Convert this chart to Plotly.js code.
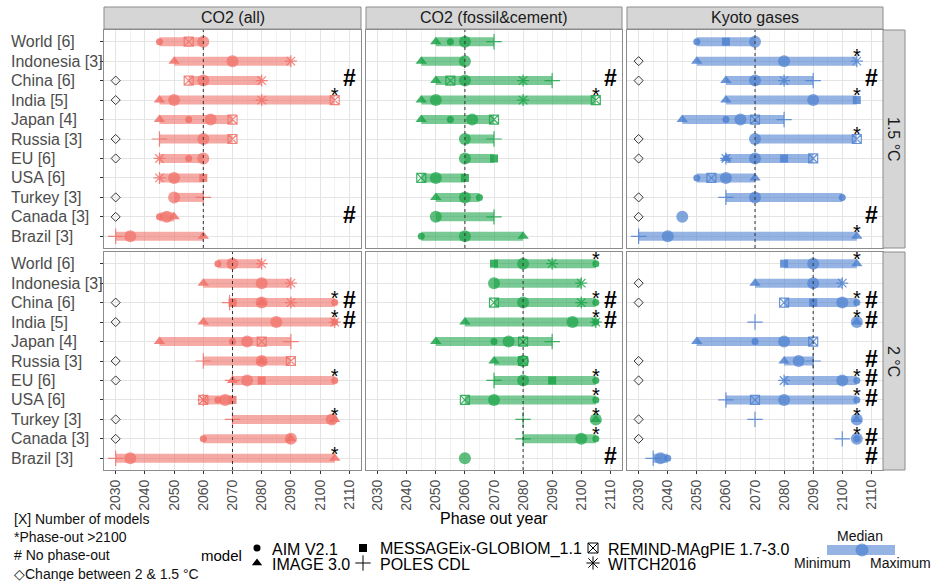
<!DOCTYPE html>
<html><head><meta charset="utf-8">
<script src="https://cdn.plot.ly/plotly-3.0.1.min.js"></script>
<style>body{margin:0;background:#fff}</style>
</head><body><div id="chart" style="width:938px;height:581px"></div>
<script>
// ---------------- DATA ----------------
const regions = ["World [6]","Indonesia [3]","China [6]","India [5]","Japan [4]","Russia [3]","EU [6]","USA [6]","Turkey [3]","Canada [3]","Brazil [3]"];
const gases = ["CO2 (all)","CO2 (fossil&cement)","Kyoto gases"];
const targets = ["1.5 °C","2 °C"];
const models = ["AIM V2.1","IMAGE 3.0","MESSAGEix-GLOBIOM_1.1","POLES CDL","REMIND-MAgPIE 1.7-3.0","WITCH2016"];
const yearTicks = [2030,2040,2050,2060,2070,2080,2090,2100,2110];
const after2100Year = 2105;   // phase-out > 2100 plotted here
const noPhaseOutYear = 2110;  // "#" column
const changeYear = 2030;      // diamond column

// points: [region index, model index, phase-out year]
// CO2 (all), 1.5 °C
const co2All15Min = [2045,2050,2055,2045,2045,2045,2045,2045,2050,2045,2030];
const co2All15Max = [2060,2090,2080,2105,2070,2070,2060,2060,2060,2050,2060];
const co2All15Med = [2060,2070,2060,2050,2062.5,2060,2060,2050,2050,2047.5,2035];
const co2All15Pts = [[0,0,2045],[0,4,2055],[1,1,2050],[1,5,2090],[2,4,2055],[2,5,2080],[3,1,2045],[3,5,2080],[3,4,2105],[4,1,2045],[4,0,2055],[4,4,2070],[5,3,2045],[5,4,2070],[6,5,2045],[6,0,2055],[7,5,2045],[7,2,2060],[8,3,2060],[9,0,2045],[9,1,2050],[10,3,2030],[10,1,2060]];
const co2All15Diamond = [2,3,5,6,8,9];
const co2All15Star = [3];
const co2All15Hash = [2,9];

// CO2 (fossil&cement), 1.5 °C
const co2Fos15Min = [2050,2045,2050,2045,2045,2060,2060,2045,2050,2050,2045];
const co2Fos15Max = [2070,2060,2090,2105,2070,2070,2070,2060,2065,2070,2080];
const co2Fos15Med = [2060,2060,2060,2050,2062.5,2060,2060,2050,2060,2050,2060];
const co2Fos15Pts = [[0,1,2050],[0,0,2055],[0,3,2070],[1,1,2045],[2,1,2050],[2,4,2055],[2,5,2080],[2,3,2090],[3,1,2045],[3,5,2080],[3,4,2105],[4,1,2045],[4,0,2055],[4,4,2070],[5,3,2070],[6,2,2070],[7,4,2045],[7,2,2060],[8,1,2050],[8,0,2065],[9,3,2070],[10,0,2045],[10,1,2080]];
const co2Fos15Diamond = [];
const co2Fos15Star = [3];
const co2Fos15Hash = [2];

// Kyoto gases, 1.5 °C
const kyoto15Min = [2050,2050,2060,2060,2045,2070,2060,2050,2060,2045,2030];
const kyoto15Max = [2070,2105,2090,2105,2080,2105,2090,2070,2100,2045,2105];
const kyoto15Med = [2070,2080,2070,2090,2065,2070,2070,2060,2070,2045,2040];
const kyoto15Pts = [[0,0,2050],[0,2,2060],[1,1,2050],[1,5,2105],[2,1,2060],[2,5,2080],[2,3,2090],[3,1,2060],[3,2,2105],[4,1,2045],[4,0,2060],[4,4,2070],[4,3,2080],[5,4,2105],[6,1,2060],[6,5,2060],[6,2,2080],[6,4,2090],[7,0,2050],[7,4,2055],[7,1,2070],[8,3,2060],[8,0,2100],[10,3,2030],[10,1,2105]];
const kyoto15Diamond = [1,2,5,6,8,9];
const kyoto15Star = [1,3,5,10];
const kyoto15Hash = [2,9];

// CO2 (all), 2 °C
const co2All2Min = [2065,2060,2069,2060,2045,2060,2070,2060,2070,2060,2030];
const co2All2Max = [2080,2090,2105,2105,2090,2090,2105,2070,2105,2090,2105];
const co2All2Med = [2070,2080,2080,2085,2075,2080,2075,2067.5,2104,2090,2035];
const co2All2Pts = [[0,0,2065],[0,5,2080],[1,1,2060],[1,5,2090],[2,3,2069],[2,2,2070],[2,1,2080],[2,5,2090],[2,0,2105],[3,1,2060],[3,5,2105],[3,0,2105],[4,1,2045],[4,0,2070],[4,4,2080],[4,3,2090],[5,3,2060],[5,1,2080],[5,4,2090],[6,3,2070],[6,1,2070],[6,2,2080],[6,0,2105],[7,4,2060],[7,5,2060],[7,0,2065],[7,2,2070],[8,3,2070],[8,1,2105],[9,0,2060],[9,1,2090],[10,3,2030],[10,1,2105]];
const co2All2Diamond = [2,3,5,6,8,9];
const co2All2Star = [2,3,6,8,10];
const co2All2Hash = [2,3];

// CO2 (fossil&cement), 2 °C
const co2Fos2Min = [2070,2070,2070,2060,2050,2070,2070,2060,2105,2080,2060];
const co2Fos2Max = [2105,2100,2105,2105,2090,2080,2105,2105,2105,2105,2060];
const co2Fos2Med = [2080,2070,2080,2097,2075,2080,2080,2070,2105,2100,2060];
const co2Fos2Pts = [[0,2,2070],[0,5,2090],[0,0,2105],[1,5,2100],[2,4,2070],[2,5,2100],[2,0,2105],[3,1,2060],[3,5,2105],[3,0,2105],[4,1,2050],[4,0,2070],[4,4,2080],[4,3,2090],[5,1,2070],[5,4,2080],[6,3,2070],[6,2,2090],[6,0,2105],[7,4,2060],[7,0,2105],[8,3,2080],[8,1,2105],[9,3,2080],[9,0,2105]];
const co2Fos2Diamond = [];
const co2Fos2Star = [0,2,3,6,7,8,9];
const co2Fos2Hash = [2,3,10];

// Kyoto gases, 2 °C
const kyoto2Min = [2080,2070,2080,2105,2050,2080,2080,2060,2105,2105,2035];
const kyoto2Max = [2105,2100,2105,2105,2090,2090,2105,2105,2105,2105,2040];
const kyoto2Med = [2090,2090,2100,2105,2080,2085,2100,2080,2105,2105,2037.5];
const kyoto2Pts = [[0,2,2080],[0,1,2105],[1,1,2070],[1,5,2100],[2,4,2080],[2,2,2090],[2,0,2105],[3,3,2070],[3,1,2105],[4,1,2050],[4,0,2070],[4,4,2090],[5,1,2080],[5,3,2090],[6,5,2080],[6,0,2105],[7,3,2060],[7,4,2070],[7,0,2105],[8,3,2070],[8,1,2105],[9,3,2100],[9,0,2105],[10,3,2035],[10,0,2040]];
const kyoto2Diamond = [1,2,5,6,8,9];
const kyoto2Star = [0,2,3,6,7,8,9];
const kyoto2Hash = [2,3,5,6,7,9,10];

// ---------------- STYLE / LAYOUT ----------------
const W = 938, H = 581;
const gasRGB = [[240,113,105],[30,165,75],[80,130,208]];
const barAlpha = 0.6, medAlpha = 0.72, ptAlpha = 0.85;
const symbols = ['circle','triangle-up','square','cross-thin-open','square-x-open','asterisk-open'];
const symSizes = [7,10,8,11,9,10];
const FONT = 'Liberation Sans, Arial, sans-serif';
const xDom = [[104/W,361/W],[366/W,622/W],[627/W,883/W]];
const yDom = [[1-248/H,1-30/H],[1-470/H,1-252/H]];
const rgba = (c,a) => `rgba(${c[0]},${c[1]},${c[2]},${a})`;
const starLift = 0.14;  // asterisk drawn slightly above its row

const panels = [
  {g:0,t:0,min:co2All15Min,max:co2All15Max,med:co2All15Med,pts:co2All15Pts,dia:co2All15Diamond,star:co2All15Star,hash:co2All15Hash},
  {g:1,t:0,min:co2Fos15Min,max:co2Fos15Max,med:co2Fos15Med,pts:co2Fos15Pts,dia:co2Fos15Diamond,star:co2Fos15Star,hash:co2Fos15Hash},
  {g:2,t:0,min:kyoto15Min,max:kyoto15Max,med:kyoto15Med,pts:kyoto15Pts,dia:kyoto15Diamond,star:kyoto15Star,hash:kyoto15Hash},
  {g:0,t:1,min:co2All2Min,max:co2All2Max,med:co2All2Med,pts:co2All2Pts,dia:co2All2Diamond,star:co2All2Star,hash:co2All2Hash},
  {g:1,t:1,min:co2Fos2Min,max:co2Fos2Max,med:co2Fos2Med,pts:co2Fos2Pts,dia:co2Fos2Diamond,star:co2Fos2Star,hash:co2Fos2Hash},
  {g:2,t:1,min:kyoto2Min,max:kyoto2Max,med:kyoto2Med,pts:kyoto2Pts,dia:kyoto2Diamond,star:kyoto2Star,hash:kyoto2Hash}
];

const traces = [];
const shapes = [];
const annotations = [];
const layout = {
  width: W, height: H, margin:{l:0,r:0,t:0,b:0},
  paper_bgcolor:'#fff', plot_bgcolor:'rgba(0,0,0,0)', showlegend:false,
  font:{family:FONT, color:'#1a1a1a'}
};

panels.forEach((p, idx) => {
  const k = idx + 1;
  const xa = 'x' + (k===1?'':k), ya = 'y' + (k===1?'':k);
  const col = gasRGB[p.g];
  const bottom = p.t === 1;
  layout['xaxis' + (k===1?'':k)] = {
    domain: xDom[p.g], anchor: ya, range:[2026,2114],
    tickmode:'array', tickvals: yearTicks, ticktext: yearTicks.map(String),
    showgrid:true, gridcolor:'#e4e4e4', gridwidth:1,
    minor:{dtick:5, tick0:2030, showgrid:true, gridcolor:'#f2f2f2', gridwidth:1, ticks:''},
    showline:true, mirror:true, linecolor:'#8c8c8c', linewidth:1, zeroline:false,
    showticklabels: bottom, ticks: bottom ? 'outside' : '', ticklen:3, tickcolor:'#333',
    tickangle:-90, tickfont:{size:14, color:'#4d4d4d', family:FONT}
  };
  layout['yaxis' + (k===1?'':k)] = {
    domain: yDom[p.t], anchor: xa, range:[regions.length-0.4, -0.6],
    tickmode:'array', tickvals: regions.map((r,i)=>i), showticklabels:false,
    showgrid:true, gridcolor:'#e4e4e4', gridwidth:1,
    showline:true, mirror:true, linecolor:'#8c8c8c', linewidth:1, zeroline:false,
    ticks: p.g===0 ? 'outside' : '', ticklen:3, tickcolor:'#333'
  };
  // bars (min - max)
  const bx = [], by = [];
  regions.forEach((r,i) => { bx.push(p.min[i], p.max[i], null); by.push(i, i, null); });
  traces.push({type:'scatter', mode:'lines', x:bx, y:by, xaxis:xa, yaxis:ya,
    line:{color:rgba(col,barAlpha), width:9}, hoverinfo:'skip', cliponaxis:false});
  // median
  traces.push({type:'scatter', mode:'markers', x:p.med, y:regions.map((r,i)=>i), xaxis:xa, yaxis:ya,
    marker:{symbol:'circle', size:12, color:rgba(col,medAlpha)}, hoverinfo:'skip', cliponaxis:false});
  // models
  models.forEach((m, mi) => {
    const pts = p.pts.filter(q => q[1] === mi);
    if (!pts.length) return;
    const open = symbols[mi].endsWith('open');
    traces.push({type:'scatter', mode:'markers', x:pts.map(q=>q[2]), y:pts.map(q=>q[0]), xaxis:xa, yaxis:ya,
      marker:{symbol:symbols[mi], size:symSizes[mi], color:rgba(col,ptAlpha),
        line:{color:rgba(col,ptAlpha), width: open?1.2:0}}, hoverinfo:'skip', cliponaxis:false});
  });
  // diamonds
  if (p.dia.length) traces.push({type:'scatter', mode:'markers', x:p.dia.map(()=>changeYear), y:p.dia, xaxis:xa, yaxis:ya,
    marker:{symbol:'diamond-open', size:7, color:'#333', line:{color:'#333', width:1}}, hoverinfo:'skip', cliponaxis:false});
  // stars
  if (p.star.length) traces.push({type:'scatter', mode:'text', x:p.star.map(()=>after2100Year), y:p.star.map(i=>i-starLift), xaxis:xa, yaxis:ya,
    text:p.star.map(()=>'*'), textfont:{size:20, color:'#000', family:FONT}, textposition:'middle center', hoverinfo:'skip', cliponaxis:false});
  // hashes
  if (p.hash.length) traces.push({type:'scatter', mode:'text', x:p.hash.map(()=>noPhaseOutYear), y:p.hash, xaxis:xa, yaxis:ya,
    text:p.hash.map(()=>'#'), textfont:{size:23, color:'#000', family:FONT, weight:'bold'}, textposition:'middle center', hoverinfo:'skip', cliponaxis:false});
  // dotted line at World median
  shapes.push({type:'line', xref:xa, yref:ya+' domain', x0:p.med[0], x1:p.med[0], y0:0, y1:1,
    line:{color:'#333', width:1, dash:'dot'}, layer:'above'});
  // region labels
  if (p.g === 0) regions.forEach((r,i) => annotations.push({xref:'paper', yref:ya, x:9/W, y:i, xanchor:'left', yanchor:'middle',
    text:r, showarrow:false, font:{size:16, color:'#4d4d4d'}}));
});

// strips
gases.forEach((gname, g) => {
  shapes.push({type:'rect', xref:'paper', yref:'paper', x0:xDom[g][0], x1:xDom[g][1], y0:1-29/H, y1:1-7/H,
    fillcolor:'#d6d6d6', line:{color:'#8c8c8c', width:1}});
  annotations.push({xref:'paper', yref:'paper', x:(xDom[g][0]+xDom[g][1])/2, y:1-18/H, text:gname, showarrow:false,
    xanchor:'center', yanchor:'middle', font:{size:16, color:'#1a1a1a'}});
});
targets.forEach((tname, t) => {
  shapes.push({type:'rect', xref:'paper', yref:'paper', x0:883/W, x1:905/W, y0:yDom[t][0], y1:yDom[t][1],
    fillcolor:'#d6d6d6', line:{color:'#8c8c8c', width:1}});
  annotations.push({xref:'paper', yref:'paper', x:894/W, y:(yDom[t][0]+yDom[t][1])/2, text:tname, showarrow:false,
    textangle:90, xanchor:'center', yanchor:'middle', font:{size:16, color:'#1a1a1a'}});
});

// axis title
annotations.push({xref:'paper', yref:'paper', x:494/W, y:1-518/H, text:'Phase out year', showarrow:false,
  xanchor:'center', yanchor:'middle', font:{size:16, color:'#000'}});

// notes
const notes = ['[X] Number of models','*Phase-out >2100','# No phase-out','◇Change between 2 & 1.5 °C'];
const noteY = [519,537,555,574];
notes.forEach((n,i) => annotations.push({xref:'paper', yref:'paper', x:12/W, y:1-noteY[i]/H, text:n, showarrow:false,
  xanchor:'left', yanchor:'middle', font:{size:14, color:'#111'}}));

// model legend (overlay axis in pixel units, restricted to the legend strip)
const legTop = 528;
layout.xaxis7 = {domain:[0,1], range:[0,W], visible:false, fixedrange:true, anchor:'y7'};
layout.yaxis7 = {domain:[0,1-legTop/H], range:[H,legTop], visible:false, fixedrange:true, anchor:'x7'};
annotations.push({xref:'paper', yref:'paper', x:199/W, y:1-555/H, text:'model', showarrow:false,
  xanchor:'left', yanchor:'middle', font:{size:15, color:'#000'}});
const legX = [257,257,363,363,593,593], legY = [548,563,548,563,548,563];
const legTxtX = [270,270,378,378,606,606];
const legSizes = [7,9,8,11,10,11];
models.forEach((m, mi) => {
  const open = symbols[mi].endsWith('open');
  traces.push({type:'scatter', mode:'markers', x:[legX[mi]], y:[legY[mi]], xaxis:'x7', yaxis:'y7',
    marker:{symbol:symbols[mi], size:legSizes[mi], color:'#000', line:{color:'#000', width: open?1:0}}, hoverinfo:'skip', cliponaxis:false});
  annotations.push({xref:'paper', yref:'paper', x:legTxtX[mi]/W, y:1-(legY[mi]+1)/H, text:m, showarrow:false,
    xanchor:'left', yanchor:'middle', font:{size:16, color:'#000'}});
});
// range key
traces.push({type:'scatter', mode:'lines', x:[827,895], y:[550,550], xaxis:'x7', yaxis:'y7',
  line:{color:rgba(gasRGB[2],barAlpha), width:10}, hoverinfo:'skip', cliponaxis:false});
traces.push({type:'scatter', mode:'markers', x:[862], y:[550], xaxis:'x7', yaxis:'y7',
  marker:{symbol:'circle', size:13, color:rgba(gasRGB[2],medAlpha)}, hoverinfo:'skip', cliponaxis:false});
annotations.push({xref:'paper', yref:'paper', x:860/W, y:1-536/H, text:'Median', showarrow:false, xanchor:'center', yanchor:'middle', font:{size:14, color:'#111'}});
annotations.push({xref:'paper', yref:'paper', x:822/W, y:1-563/H, text:'Minimum', showarrow:false, xanchor:'center', yanchor:'middle', font:{size:14, color:'#111'}});
annotations.push({xref:'paper', yref:'paper', x:900/W, y:1-563/H, text:'Maximum', showarrow:false, xanchor:'center', yanchor:'middle', font:{size:14, color:'#111'}});

layout.shapes = shapes;
layout.annotations = annotations;
Plotly.newPlot('chart', traces, layout, {staticPlot:true, displayModeBar:false});
</script>
</body></html>
